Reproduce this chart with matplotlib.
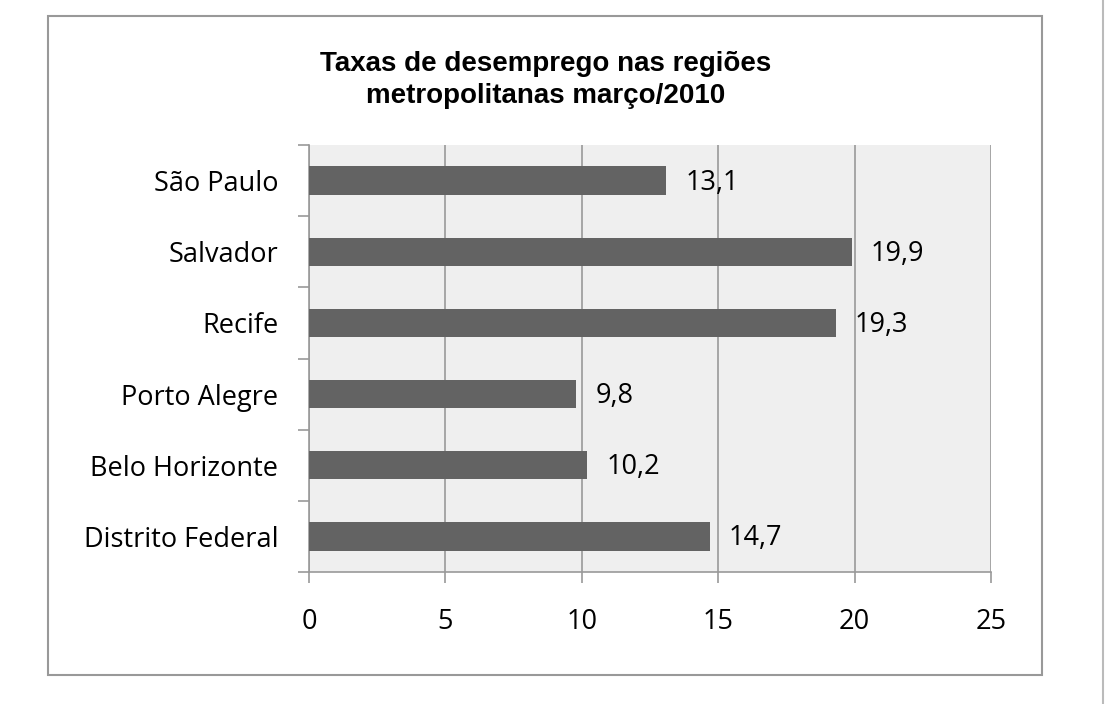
import matplotlib
matplotlib.use("Agg")
import matplotlib.pyplot as plt
from matplotlib.patches import Rectangle

regions = ["São Paulo", "Salvador", "Recife", "Porto Alegre",
           "Belo Horizonte", "Distrito Federal"]
rates = [13.1, 19.9, 19.3, 9.8, 10.2, 14.7]
xticks = [0, 5, 10, 15, 20, 25]
title = "Taxas de desemprego nas regiões\nmetropolitanas março/2010"

W, H = 1105, 704
fig = plt.figure(figsize=(W / 100, H / 100), dpi=100)
ax = fig.add_axes([309 / W, 1 - 572 / H, 682 / W, 427 / H])

grid_c = "#999999"
fs = 19.5
ax.set_facecolor("#efefef")
ypos = list(range(len(regions)))
ax.barh(ypos, rates, height=0.4, color="#636363", zorder=3)
ax.set_ylim(len(regions) - 0.5, -0.5)
ax.set_xlim(0, 25)

for y, v in zip(ypos, rates):
    ax.annotate(f"{v:.1f}".replace(".", ","), (v, y), xytext=(19, -2),
                textcoords="offset pixels", va="center", ha="left",
                fontsize=fs, family="Open Sans", zorder=4)

ax.set_xticks(xticks)
ax.set_xticklabels([str(t) for t in xticks], fontsize=fs, family="Open Sans")
ax.set_yticks(ypos)
ax.set_yticklabels(regions, fontsize=fs, family="Open Sans")
ax.set_yticks([i - 0.5 for i in range(len(regions) + 1)], minor=True)
ax.tick_params(axis="y", which="major", length=0, pad=22)
ax.tick_params(axis="y", which="minor", length=8, color=grid_c, width=1.2)
ax.tick_params(axis="x", length=8, color=grid_c, width=1.2, pad=18)
ax.xaxis.grid(True, color=grid_c, lw=1.2, zorder=1)
for s in ["top", "right"]:
    ax.spines[s].set_visible(False)
for s in ["left", "bottom"]:
    ax.spines[s].set_color(grid_c)
    ax.spines[s].set_linewidth(1.2)

fig.text(546 / W, 1 - 80 / H, title, ha="center", va="center",
         fontsize=20, fontweight="bold", family="Liberation Sans",
         linespacing=1.32)

# outer chart border and page edge
fig.patches.append(Rectangle((48 / W, 1 - 675 / H), (1042 - 48) / W, (675 - 16) / H,
                             transform=fig.transFigure, fill=False,
                             edgecolor="#999999", lw=1.5))
fig.add_artist(plt.Line2D([1103 / W, 1103 / W], [0, 1], color="#bbbbbb", lw=1.5))

fig.savefig("out.png", dpi=100)
